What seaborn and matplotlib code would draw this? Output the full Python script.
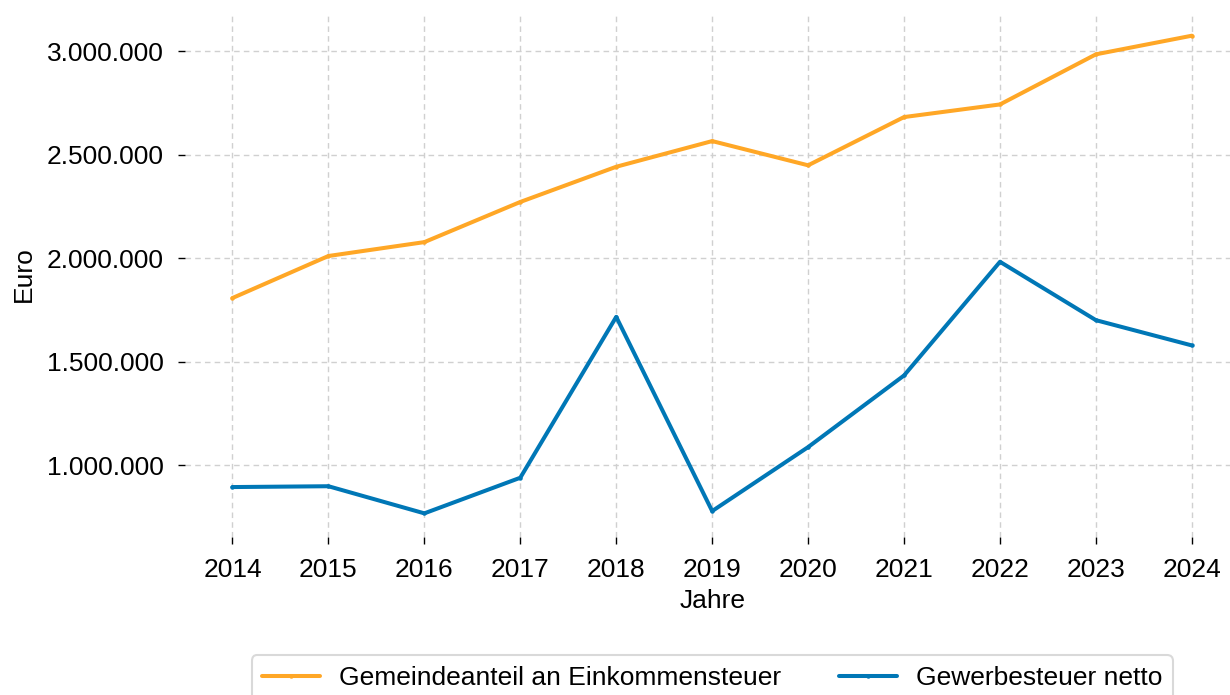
import matplotlib
matplotlib.use("Agg")
import matplotlib.pyplot as plt
from matplotlib.ticker import FuncFormatter
import pandas as pd
import seaborn as sns

# Steuereinnahmen der Gemeinde, 2014-2024
jahre = [2014, 2015, 2016, 2017, 2018, 2019, 2020, 2021, 2022, 2023, 2024]
einkommensteuer = [1807000, 2010000, 2077000, 2271000, 2441000, 2565000,
                   2448000, 2681000, 2742000, 2984000, 3074000]
gewerbesteuer = [894000, 898000, 767000, 939000, 1716000, 778000,
                 1087000, 1433000, 1982000, 1700000, 1578000]
serien = ["Gemeindeanteil an Einkommensteuer", "Gewerbesteuer netto"]
farben = ["#FFA726", "#0077B6"]

df = pd.DataFrame({
    "Jahre": jahre * 2,
    "Euro": einkommensteuer + gewerbesteuer,
    "Serie": [serien[0]] * len(jahre) + [serien[1]] * len(jahre),
})

sns.set_theme(style="white")
plt.rcParams["font.family"] = ["Liberation Sans", "DejaVu Sans"]
plt.rcParams["text.color"] = "black"
plt.rcParams["axes.labelcolor"] = "black"

fs = 19

fig = plt.figure(figsize=(12.3, 6.95), dpi=100)
ax = fig.add_axes([0.150, 0.227, 0.858, 0.756])

sns.lineplot(data=df, x="Jahre", y="Euro", hue="Serie", hue_order=serien,
             palette=farben, linewidth=2.9, marker="o", markersize=3.2,
             markeredgewidth=0, ax=ax)

ax.grid(True, linestyle=(0, (4, 3)), color="#d0d0d0", linewidth=1.0)
for s in ax.spines.values():
    s.set_visible(False)

ax.set_xticks(jahre)
ax.yaxis.set_major_formatter(FuncFormatter(lambda v, p: f"{v:,.0f}".replace(",", ".")))
ax.tick_params(axis="both", which="major", labelsize=fs, colors="black",
               length=5, width=1.0, left=True, bottom=True, pad=10)
ax.set_xlabel("Jahre", fontsize=fs, labelpad=5)
ax.set_ylabel("Euro", fontsize=fs, labelpad=8)

leg = ax.legend(loc="upper center", bbox_to_anchor=(0.5, -0.2246), ncol=2,
                frameon=True, fontsize=fs, handlelength=2.2, columnspacing=2.2,
                handletextpad=0.7, fancybox=True, borderpad=0.4,
                borderaxespad=0)
leg.get_frame().set_edgecolor("#d0d0d0")
leg.get_frame().set_linewidth(1.5)

fig.savefig("out.png", dpi=100)
